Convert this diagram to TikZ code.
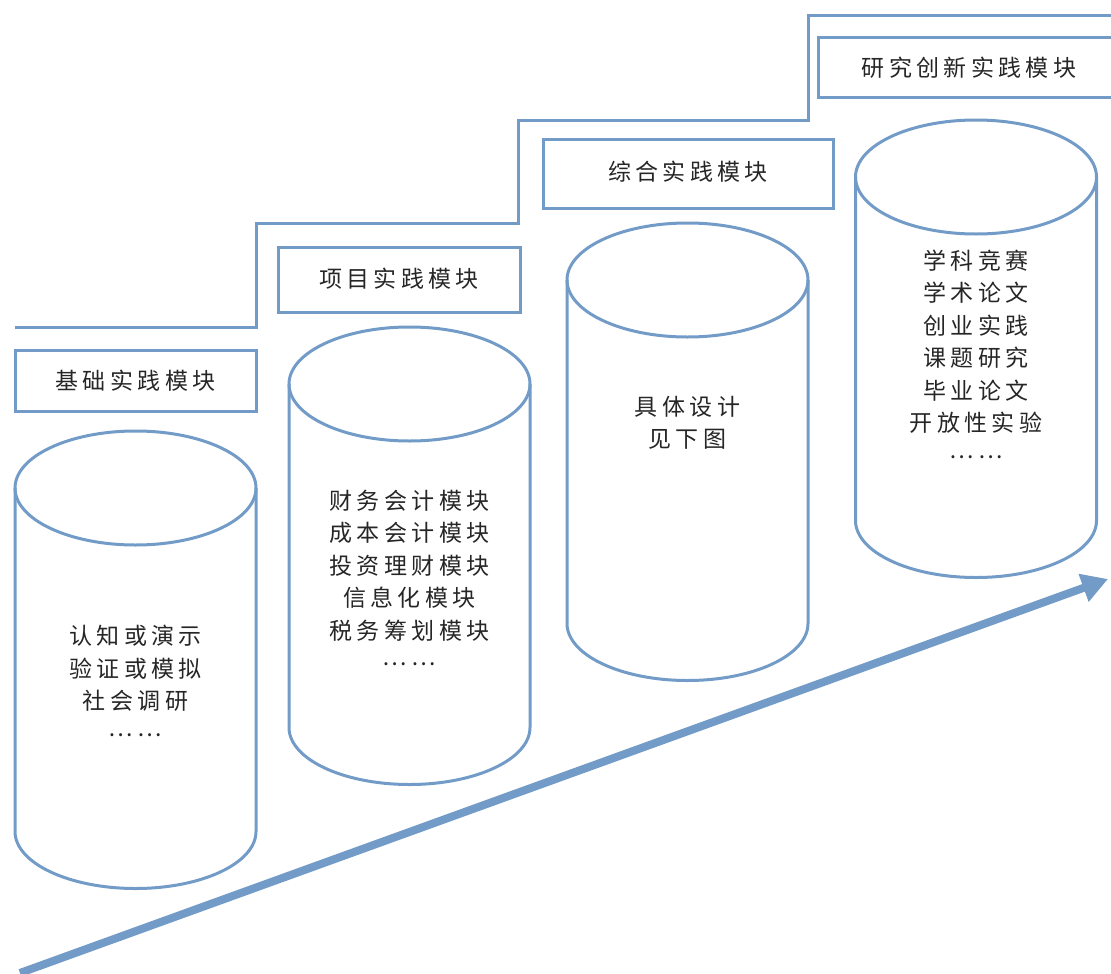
\documentclass[tikz,border=0pt]{standalone}
\usepackage{fontspec}
\newfontfamily\cjk[LetterSpace=19]{Noto Sans CJK SC}
\usepackage{tikz}
\usetikzlibrary{arrows.meta}
\definecolor{stairblue}{RGB}{114,155,199}
\newcommand{\moredots}{\raisebox{6pt}{……}}

\begin{document}
\begin{tikzpicture}[
    x=1pt, y=-1pt,
    line/.style={draw=stairblue, line width=3pt},
    modbox/.style={rectangle, draw=stairblue, line width=3pt, inner sep=0pt, align=center, text=black!85, font=\cjk\fontsize{23}{32.5}\selectfont},
    drumtext/.style={align=center, inner sep=0pt, text=black!85, font=\cjk\fontsize{23}{32.5}\selectfont},
    bigarrow/.style={-{Triangle[length=26pt, width=28pt]}, draw=stairblue, line width=8pt},
    drum/.pic={
        \draw[line] (-120.5,0) -- (-120.5,343.5) arc[start angle=180, end angle=0, x radius=120.5, y radius=57] -- (120.5,0);
        \draw[line] (0,0) ellipse [x radius=120.5, y radius=57];
    }
]
\useasboundingbox (0,0) rectangle (1111,974);

% ==================== STAIRS ====================
\draw[line] (15,327) -- (256,327) -- (256,223) -- (518,223) -- (518,120) -- (808,120) -- (808,16) -- (1115,16);

% ==================== MODULE TITLES ====================
\node[modbox, minimum width=241pt, minimum height=61pt] (basic) at (135.5,380.5) {\raisebox{2pt}{基础实践模块}};
\node[modbox, minimum width=242pt, minimum height=65pt] (project) at (399,279.5) {\raisebox{3pt}{项目实践模块}};
\node[modbox, minimum width=290pt, minimum height=69pt] (compre) at (688,173.5) {\raisebox{5pt}{综合实践模块}};
\node[modbox, minimum width=302pt, minimum height=59pt] (research) at (969,67.5) {\raisebox{1pt}{研究创新实践模块}};

% ==================== CYLINDERS ====================
\pic at (135.5,488) {drum};
\pic at (409.5,384) {drum};
\pic at (687.5,280) {drum};
\pic at (976,177) {drum};

% Contents
\node[drumtext] (basictxt) at (135.5,684) {认知或演示\\验证或模拟\\社会调研\\\moredots};
\node[drumtext] (projecttxt) at (409.5,581) {财务会计模块\\成本会计模块\\投资理财模块\\信息化模块\\税务筹划模块\\\moredots};
\node[drumtext] (compretxt) at (687.5,423) {具体设计\\见下图};
\node[drumtext] (researchtxt) at (976,357) {学科竞赛\\学术论文\\创业实践\\课题研究\\毕业论文\\开放性实验\\\moredots};

% ==================== PROGRESS ARROW ====================
\coordinate (arrowtail) at (20,973);
\coordinate (arrowhead) at (1108,579);
\draw[bigarrow] (arrowtail) -- (arrowhead);

\end{tikzpicture}
\end{document}
